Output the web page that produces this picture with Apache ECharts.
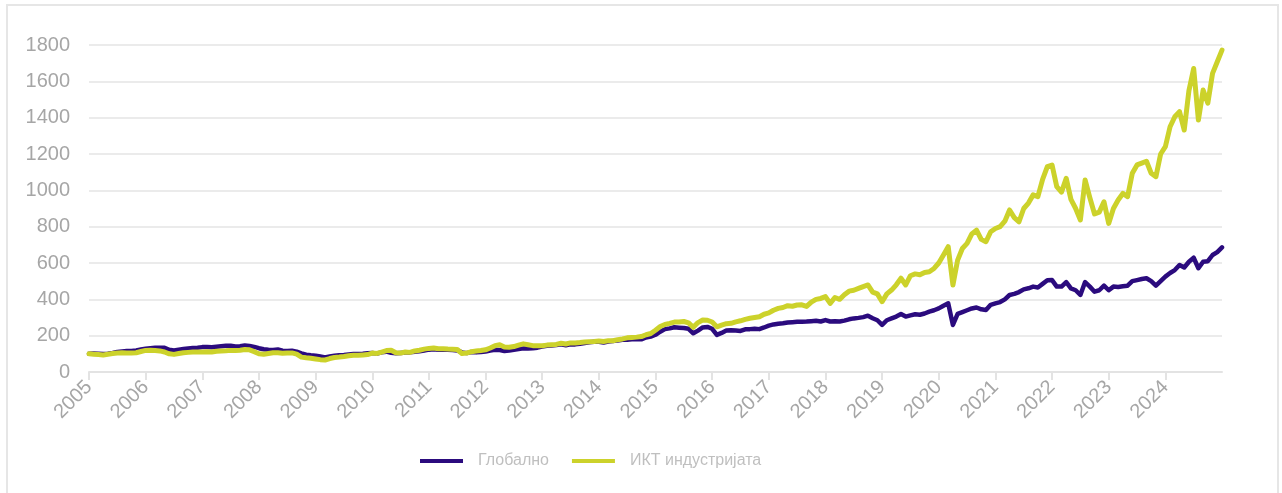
<!DOCTYPE html>
<html>
<head>
<meta charset="utf-8">
<script src="https://cdn.jsdelivr.net/npm/echarts@6/dist/echarts.min.js"></script>
<style>
html,body{margin:0;padding:0;background:#fff;}
#c{width:1282px;height:493px;}
</style>
</head>
<body>
<div id="c"></div>
<script>
// Monthly index values, one row per year (Jan..Dec), 2005..2024, plus end of 2024
const startYear = 2005;
const endYear = 2024;
const seriesNames = ['Глобално', 'ИКТ индустријата'];
const yTicks = [0, 200, 400, 600, 800, 1000, 1200, 1400, 1600, 1800];

const globalValues = [
  100,102,101,99,101,105,110,113,115,116,119,124,
  128,131,133,134,133,122,119,123,126,129,132,134,
  137,138,136,139,142,144,145,141,142,146,143,138,
  131,125,122,121,124,117,115,117,112,103,95,92,
  90,85,80,86,90,92,94,97,99,99,100,103,
  104,102,108,112,106,103,105,107,108,112,114,118,
  123,125,122,124,123,121,119,108,104,110,108,110,
  113,118,122,121,116,118,122,126,130,130,131,134,
  140,144,146,148,152,147,152,152,155,160,164,166,
  166,162,168,170,174,177,178,180,182,180,190,195,
  205,222,236,240,246,244,242,238,213,228,245,248,
  238,204,215,228,230,228,226,235,236,238,236,245,
  255,262,266,268,272,274,276,277,278,280,282,278,
  286,278,280,278,283,290,295,298,302,310,296,285,
  259,285,295,305,319,305,312,318,315,322,332,340,
  350,365,378,259,320,330,340,350,355,345,341,370,
  378,385,400,424,430,440,455,461,470,465,485,505,
  506,470,470,495,460,450,424,495,470,442,450,475,
  450,470,468,472,475,500,506,512,516,500,475,500,
  525,545,561,589,575,607,629,571,607,610,644,660,
  686
];

const ictValues = [
  100,98,96,94,98,102,105,106,105,104,106,113,
  119,120,118,116,110,100,97,102,106,108,110,110,
  110,111,110,114,116,117,119,118,120,124,122,112,
  100,98,102,106,106,103,104,105,98,82,78,76,
  72,68,66,74,80,82,85,89,92,92,94,96,
  104,102,110,118,120,106,104,110,108,116,120,126,
  130,132,128,128,126,125,124,102,104,112,115,118,
  122,132,145,150,138,136,140,148,155,150,145,145,
  145,148,150,152,158,154,160,160,162,165,167,168,
  170,168,172,172,178,182,188,190,192,195,205,212,
  230,250,262,268,275,275,278,270,246,272,286,285,
  275,249,258,266,268,276,282,290,296,300,304,318,
  325,340,350,355,365,362,369,370,361,385,400,405,
  415,378,410,400,425,445,450,460,470,479,440,430,
  387,430,451,480,516,479,530,540,535,548,552,570,
  600,644,690,479,616,680,708,760,781,730,717,772,
  790,800,830,892,850,827,900,930,975,965,1060,1130,
  1139,1020,990,1066,950,900,837,1057,960,870,880,937,
  818,900,947,983,965,1094,1140,1150,1160,1094,1075,1200,
  1240,1350,1405,1433,1332,1550,1671,1387,1552,1480,1644,1708,
  1772
];

const categories = [];
for (let y = startYear; y <= endYear; y++) {
  for (let m = 1; m <= 12; m++) categories.push(y + '-' + (m < 10 ? '0' + m : m));
}
categories.push((endYear + 1) + '-01');

const lastIdx = categories.length - 1;
const isYearStart = (idx) => idx % 12 === 0 && idx < lastIdx;

const chart = echarts.init(document.getElementById('c'), null, {renderer: 'canvas'});
chart.setOption({
  animation: false,
  backgroundColor: '#ffffff',
  graphic: [{
    type: 'rect',
    shape: {x: 7, y: 5, width: 1271, height: 520},
    style: {fill: 'none', stroke: '#E6E6E6', lineWidth: 2},
    silent: true
  }],
  grid: {left: 89, right: 60, top: 45, bottom: 121, containLabel: false},
  legend: {
    left: 415,
    top: 448,
    itemWidth: 43,
    itemHeight: 4,
    itemGap: 23,
    icon: 'rect',
    data: seriesNames,
    textStyle: {
      color: '#BFBFBF',
      fontSize: 16,
      fontFamily: 'Liberation Sans, Arial, sans-serif',
      padding: [0, 0, 0, 10]
    }
  },
  xAxis: {
    type: 'category',
    data: categories,
    boundaryGap: false,
    axisLine: {show: true, lineStyle: {color: '#E3E3E3', width: 2}},
    axisTick: {show: true, interval: (idx) => isYearStart(idx), length: 8, lineStyle: {color: '#E3E3E3', width: 2}},
    axisLabel: {
      interval: (idx) => isYearStart(idx),
      formatter: (v) => v.slice(0, 4),
      rotate: 45,
      margin: 12,
      color: '#A6A6A6',
      fontSize: 20,
      fontFamily: 'Liberation Sans, Arial, sans-serif'
    },
    splitLine: {show: false}
  },
  yAxis: {
    type: 'value',
    min: yTicks[0],
    max: yTicks[yTicks.length - 1],
    interval: yTicks[1] - yTicks[0],
    axisLine: {show: false},
    axisTick: {show: false},
    axisLabel: {
      margin: 19,
      color: '#A6A6A6',
      fontSize: 20,
      fontFamily: 'Liberation Sans, Arial, sans-serif',
      formatter: (v) => String(v)
    },
    splitLine: {show: true, lineStyle: {color: '#EBEBEB', width: 2}}
  },
  series: [
    {
      name: seriesNames[0],
      type: 'line',
      data: globalValues,
      symbol: 'none',
      color: '#2B0B7E',
      lineStyle: {width: 4.5, color: '#2B0B7E', join: 'round', cap: 'round'},
      z: 2
    },
    {
      name: seriesNames[1],
      type: 'line',
      data: ictValues,
      symbol: 'none',
      color: '#CCD22B',
      lineStyle: {width: 5, color: '#CCD22B', join: 'round', cap: 'round'},
      z: 3
    }
  ]
});
</script>
</body>
</html>
